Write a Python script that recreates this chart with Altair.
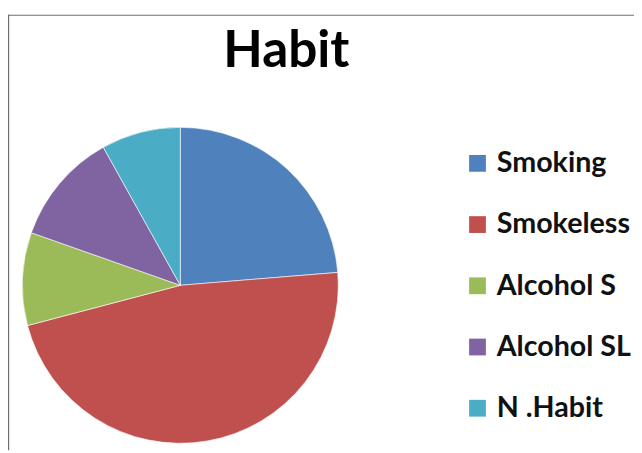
import altair as alt
import pandas as pd

title_text = "Habit"
categories = ["Smoking", "Smokeless", "Alcohol S", "Alcohol SL", "N .Habit"]
values = [23.7, 47.2, 9.5, 11.5, 8.1]
colors = ["#4F81BD", "#C0504D", "#9BBB59", "#8064A2", "#4BACC6"]

df = pd.DataFrame({"habit": categories, "value": values, "order": list(range(len(categories)))})

pie = alt.Chart(df).mark_arc(outerRadius=160, stroke="white", strokeWidth=0.6).encode(
    theta=alt.Theta("value:Q", stack=True),
    color=alt.Color(
        "habit:N",
        scale=alt.Scale(domain=categories, range=colors),
        legend=alt.Legend(
            title=None, orient="none", legendX=461, legendY=140,
            symbolType="square", symbolSize=289, symbolStrokeWidth=0,
            labelFont="Lato", labelFontSize=29, labelFontWeight="bold", labelColor="#111",
            rowPadding=32, labelOffset=5, padding=0, labelLimit=300,
        ),
    ),
    order=alt.Order("order:Q"),
    x=alt.value(174.5),
    y=alt.value(278),
)

frame = pd.DataFrame({"t": [title_text]})
top_rule = alt.Chart(frame).mark_rule(color="#6e6e6e", strokeWidth=1.2).encode(
    x=alt.value(0), x2=alt.value(634), y=alt.value(4.5)
)
left_rule = alt.Chart(frame).mark_rule(color="#6e6e6e", strokeWidth=1.2).encode(
    x=alt.value(0.6), y=alt.value(4), y2=alt.value(445)
)
title = alt.Chart(frame).mark_text(
    font="Lato", fontSize=52, fontWeight="bold", color="black",
    align="left", baseline="alphabetic",
).encode(text="t:N", x=alt.value(218), y=alt.value(57))

chart = alt.layer(top_rule, left_rule, title, pie).properties(
    width=634, height=445,
    autosize=alt.AutoSizeParams(type="none"),
    padding=0,
).configure_view(stroke=None)

chart.save("out.html", embed_options={"renderer": "svg", "actions": False})
